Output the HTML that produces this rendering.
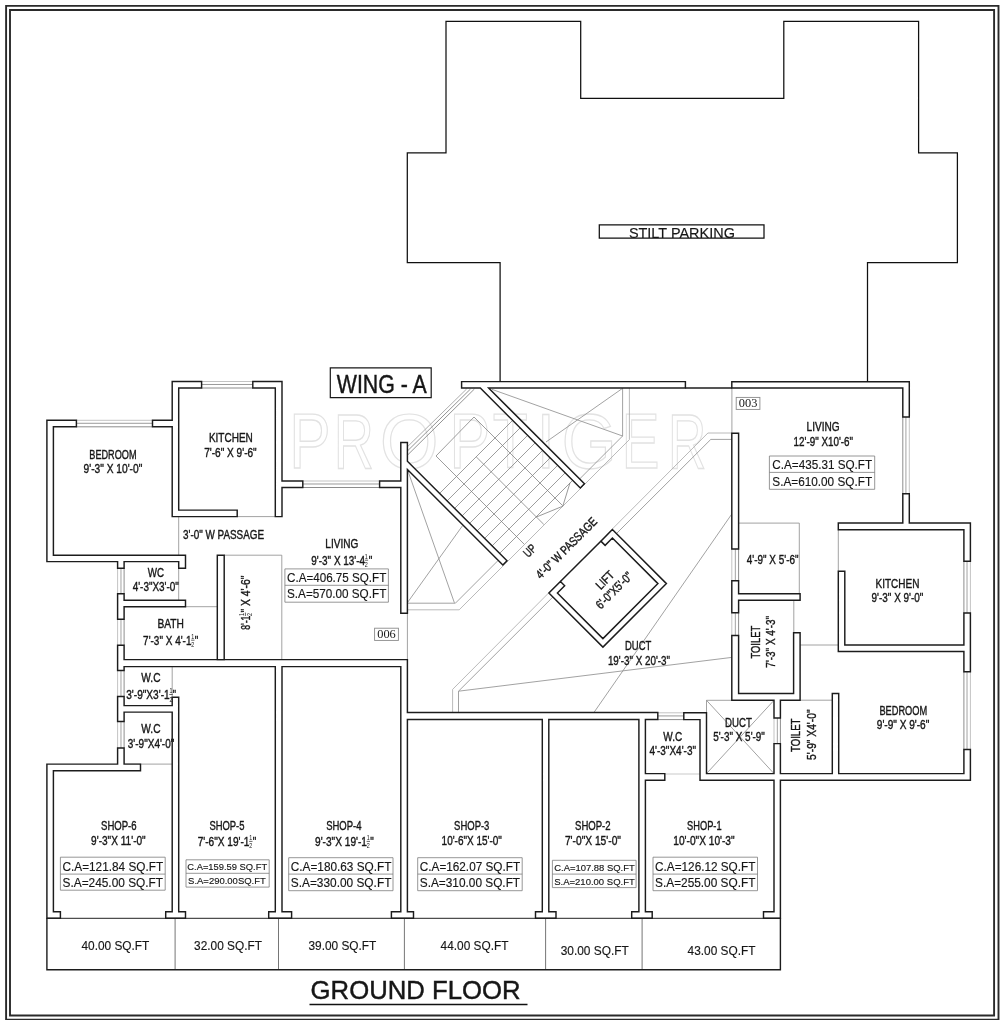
<!DOCTYPE html>
<html lang="en"><head><meta charset="utf-8"><title>Ground Floor Plan - Wing A</title>
<style>
html,body{margin:0;padding:0;background:#fff}
body{width:1000px;height:1020px;overflow:hidden}
svg{display:block;filter:grayscale(1)}
text{font-family:"Liberation Sans",Arial,sans-serif;fill:#161616}
text.c{stroke:#161616;stroke-width:.38px}
text.w{stroke:#161616;stroke-width:.45px}
text.n{stroke:#161616;stroke-width:.15px}
.ser{font-family:"Liberation Serif","Times New Roman",serif}
.wm text{fill:none;stroke:#e2e2e2;stroke-width:1.2;vector-effect:non-scaling-stroke}
</style></head><body>
<svg width="1000" height="1020" viewBox="0 0 1000 1020">
<rect width="1000" height="1020" fill="#fff"/>
<g class="wm"><text transform="translate(289.21 467.8) scale(0.7953 1)" font-size="78">P</text><text transform="translate(333.74 467.8) scale(0.7135 1)" font-size="78">R</text><text transform="translate(379.84 467.8) scale(0.9705 1)" font-size="78">O</text><text transform="translate(449.41 467.8) scale(0.7808 1)" font-size="78">P</text><text transform="translate(492.74 467.8) scale(0.7339 1)" font-size="78">T</text><text transform="translate(536.43 467.8) scale(0.8592 1)" font-size="78">I</text><text transform="translate(561.44 467.8) scale(0.9129 1)" font-size="78">G</text><text transform="translate(621.77 467.8) scale(0.7238 1)" font-size="78">E</text><text transform="translate(667.94 467.8) scale(0.6810 1)" font-size="78">R</text></g>
<path d="M175.1 918.3 L175.1 969.8" fill="none" stroke="#666" stroke-width="0.9"/>
<path d="M278.5 918.3 L278.5 969.8" fill="none" stroke="#666" stroke-width="0.9"/>
<path d="M404.4 918.3 L404.4 969.8" fill="none" stroke="#666" stroke-width="0.9"/>
<path d="M545.6 918.3 L545.6 969.8" fill="none" stroke="#666" stroke-width="0.9"/>
<path d="M642.1 918.3 L642.1 969.8" fill="none" stroke="#666" stroke-width="0.9"/>
<path d="M76.4 420.3 L152.5 420.3" fill="none" stroke="#b4b4b4" stroke-width="0.8"/>
<path d="M76.4 423.29 L152.5 423.29" fill="none" stroke="#808080" stroke-width="0.8"/>
<path d="M76.4 426.8 L152.5 426.8" fill="none" stroke="#707070" stroke-width="0.8"/>
<path d="M201.6 381.5 L252.8 381.5" fill="none" stroke="#b4b4b4" stroke-width="0.8"/>
<path d="M201.6 384.49 L252.8 384.49" fill="none" stroke="#808080" stroke-width="0.8"/>
<path d="M201.6 388 L252.8 388" fill="none" stroke="#707070" stroke-width="0.8"/>
<path d="M302.8 481 L379.6 481" fill="none" stroke="#b4b4b4" stroke-width="0.8"/>
<path d="M302.8 483.99 L379.6 483.99" fill="none" stroke="#808080" stroke-width="0.8"/>
<path d="M302.8 487.5 L379.6 487.5" fill="none" stroke="#707070" stroke-width="0.8"/>
<path d="M117.6 568.2 L117.6 593.8" fill="none" stroke="#b4b4b4" stroke-width="0.8"/>
<path d="M120.98 568.2 L120.98 593.8" fill="none" stroke="#8a8a8a" stroke-width="0.8"/>
<path d="M124.1 568.2 L124.1 593.8" fill="none" stroke="#707070" stroke-width="0.8"/>
<path d="M117.6 619.3 L117.6 645.3" fill="none" stroke="#b4b4b4" stroke-width="0.8"/>
<path d="M120.98 619.3 L120.98 645.3" fill="none" stroke="#8a8a8a" stroke-width="0.8"/>
<path d="M124.1 619.3 L124.1 645.3" fill="none" stroke="#707070" stroke-width="0.8"/>
<path d="M117.6 670.5 L117.6 696.5" fill="none" stroke="#b4b4b4" stroke-width="0.8"/>
<path d="M120.98 670.5 L120.98 696.5" fill="none" stroke="#8a8a8a" stroke-width="0.8"/>
<path d="M124.1 670.5 L124.1 696.5" fill="none" stroke="#707070" stroke-width="0.8"/>
<path d="M117.6 721.5 L117.6 748" fill="none" stroke="#b4b4b4" stroke-width="0.8"/>
<path d="M120.98 721.5 L120.98 748" fill="none" stroke="#8a8a8a" stroke-width="0.8"/>
<path d="M124.1 721.5 L124.1 748" fill="none" stroke="#707070" stroke-width="0.8"/>
<path d="M657.8 712.8 L683.8 712.8" fill="none" stroke="#b4b4b4" stroke-width="0.8"/>
<path d="M657.8 715.93 L683.8 715.93" fill="none" stroke="#808080" stroke-width="0.8"/>
<path d="M657.8 719.6 L683.8 719.6" fill="none" stroke="#707070" stroke-width="0.8"/>
<path d="M731.8 549 L731.8 580.8" fill="none" stroke="#b4b4b4" stroke-width="0.8"/>
<path d="M735.34 549 L735.34 580.8" fill="none" stroke="#8a8a8a" stroke-width="0.8"/>
<path d="M738.6 549 L738.6 580.8" fill="none" stroke="#707070" stroke-width="0.8"/>
<path d="M731.8 612.8 L731.8 635.4" fill="none" stroke="#b4b4b4" stroke-width="0.8"/>
<path d="M735.34 612.8 L735.34 635.4" fill="none" stroke="#8a8a8a" stroke-width="0.8"/>
<path d="M738.6 612.8 L738.6 635.4" fill="none" stroke="#707070" stroke-width="0.8"/>
<path d="M774 718 L774 743.6" fill="none" stroke="#b4b4b4" stroke-width="0.8"/>
<path d="M777.33 718 L777.33 743.6" fill="none" stroke="#8a8a8a" stroke-width="0.8"/>
<path d="M780.4 718 L780.4 743.6" fill="none" stroke="#707070" stroke-width="0.8"/>
<path d="M909.3 417 L909.3 493.7" fill="none" stroke="#b4b4b4" stroke-width="0.8"/>
<path d="M905.92 417 L905.92 493.7" fill="none" stroke="#8a8a8a" stroke-width="0.8"/>
<path d="M902.8 417 L902.8 493.7" fill="none" stroke="#707070" stroke-width="0.8"/>
<path d="M970.4 561.3 L970.4 613" fill="none" stroke="#b4b4b4" stroke-width="0.8"/>
<path d="M967.02 561.3 L967.02 613" fill="none" stroke="#8a8a8a" stroke-width="0.8"/>
<path d="M963.9 561.3 L963.9 613" fill="none" stroke="#707070" stroke-width="0.8"/>
<path d="M970.4 671.8 L970.4 749.5" fill="none" stroke="#b4b4b4" stroke-width="0.8"/>
<path d="M967.02 671.8 L967.02 749.5" fill="none" stroke="#8a8a8a" stroke-width="0.8"/>
<path d="M963.9 671.8 L963.9 749.5" fill="none" stroke="#707070" stroke-width="0.8"/>
<path d="M407.6 446.6 L466.6 389" fill="none" stroke="#999" stroke-width="0.8"/>
<path d="M407.6 450.8 L470.51 389" fill="none" stroke="#777" stroke-width="0.8"/>
<path d="M407.6 455 L474.41 389" fill="none" stroke="#777" stroke-width="0.8"/>
<path d="M237.2 516.6 L275.3 516.6" fill="none" stroke="#8a8a8a" stroke-width="0.8"/>
<path d="M178.7 516.6 L178.7 600.3" fill="none" stroke="#8a8a8a" stroke-width="0.8"/>
<path d="M185.5 606.7 L217.3 606.7" fill="none" stroke="#8a8a8a" stroke-width="0.8"/>
<path d="M224.2 555.2 L281.8 555.2 L281.8 659.6" fill="none" stroke="#8a8a8a" stroke-width="0.8"/>
<path d="M172.2 666.6 L172.2 697.3" fill="none" stroke="#8a8a8a" stroke-width="0.8"/>
<path d="M124.1 764.1 L172.2 764.1" fill="none" stroke="#8a8a8a" stroke-width="0.8"/>
<path d="M407.4 613.2 L407.4 659.6" fill="none" stroke="#8a8a8a" stroke-width="0.8"/>
<path d="M731.9 388 L731.9 433.2" fill="none" stroke="#8a8a8a" stroke-width="0.8"/>
<path d="M738.6 523.1 L799.3 523.1 L799.3 593.8" fill="none" stroke="#8a8a8a" stroke-width="0.8"/>
<path d="M838.3 529.7 L838.3 571.2" fill="none" stroke="#8a8a8a" stroke-width="0.8"/>
<path d="M793.8 600.3 L793.8 632.8" fill="none" stroke="#8a8a8a" stroke-width="0.8"/>
<path d="M800.1 645 L838.3 645" fill="none" stroke="#8a8a8a" stroke-width="0.8"/>
<path d="M800.1 700.2 L832.3 700.2" fill="none" stroke="#8a8a8a" stroke-width="0.8"/>
<path d="M706.5 700.3 L731.8 700.3" fill="none" stroke="#8a8a8a" stroke-width="0.8"/>
<path d="M706.5 700.3 L706.5 712.8" fill="none" stroke="#8a8a8a" stroke-width="0.8"/>
<path d="M664.8 774 L700 774" fill="none" stroke="#bbb" stroke-width="0.8"/>
<path d="M706.5 700.3 L774 773.6" fill="none" stroke="#8a8a8a" stroke-width="0.8"/>
<path d="M774 700.3 L706.5 773.6" fill="none" stroke="#8a8a8a" stroke-width="0.8"/>
<path d="M407.4 603.2 L455.4 603.2 L498.2 560.4" fill="none" stroke="#8a8a8a" stroke-width="0.8"/>
<path d="M579.6 479 L622.6 436 L622.6 388" fill="none" stroke="#8a8a8a" stroke-width="0.8"/>
<path d="M407.4 609.8 L459.2 609.8 L629.4 439.6 L629.4 388" fill="none" stroke="#a8a8a8" stroke-width="0.8"/>
<path d="M452.6 712.4 L452.6 689.4 L707.9 433 L731.8 433" fill="none" stroke="#a8a8a8" stroke-width="0.8"/>
<path d="M458.5 712.4 L458.5 691.2 L710.8 439.4 L731.8 439.4" fill="none" stroke="#8a8a8a" stroke-width="0.8"/>
<path d="M407.6 470 L454.4 602.8" fill="none" stroke="#8a8a8a" stroke-width="0.8"/>
<path d="M407.6 602.4 L462.6 525.6" fill="none" stroke="#8a8a8a" stroke-width="0.8"/>
<path d="M491.8 389.3 L622.6 436" fill="none" stroke="#8a8a8a" stroke-width="0.8"/>
<path d="M622.6 388.3 L546 442" fill="none" stroke="#8a8a8a" stroke-width="0.8"/>
<path d="M458.5 691.2 L731.8 657.4" fill="none" stroke="#8a8a8a" stroke-width="0.8"/>
<path d="M731.8 514 L594 712.4" fill="none" stroke="#8a8a8a" stroke-width="0.8"/>
<path d="M439.6 493.4 L512.65 420.35" fill="none" stroke="#7c7c7c" stroke-width="0.75"/>
<path d="M447.1 500.9 L520.15 427.85" fill="none" stroke="#7c7c7c" stroke-width="0.75"/>
<path d="M454.6 508.4 L527.65 435.35" fill="none" stroke="#7c7c7c" stroke-width="0.75"/>
<path d="M462.1 515.9 L535.15 442.85" fill="none" stroke="#7c7c7c" stroke-width="0.75"/>
<path d="M469.6 523.4 L542.65 450.35" fill="none" stroke="#7c7c7c" stroke-width="0.75"/>
<path d="M477.1 530.9 L550.15 457.85" fill="none" stroke="#7c7c7c" stroke-width="0.75"/>
<path d="M484.6 538.4 L557.65 465.35" fill="none" stroke="#7c7c7c" stroke-width="0.75"/>
<path d="M492.1 545.9 L565.15 472.85" fill="none" stroke="#7c7c7c" stroke-width="0.75"/>
<path d="M499.6 553.4 L572.65 480.35" fill="none" stroke="#7c7c7c" stroke-width="0.75"/>
<path d="M436 456 L524.1 544.1" fill="none" stroke="#7c7c7c" stroke-width="0.75"/>
<path d="M476.2 456.8 L543.8 524.4" fill="none" stroke="#7c7c7c" stroke-width="0.75"/>
<path d="M474 417 L562.6 505.6" fill="none" stroke="#7c7c7c" stroke-width="0.75"/>
<path d="M436 456 L474 417" fill="none" stroke="#7c7c7c" stroke-width="0.75"/>
<path d="M536.4 517 L562.8 506.2 L570 482.8" fill="none" stroke="#777" stroke-width="0.75"/>
<path d="M612.4 529.6 L666.42 583.62 L602.92 647.12 L548.9 593.1 Z" fill="#fff" stroke="none"/>
<path d="M152.5 426.8 L172.2 426.8 L172.2 510.1 L172.2 516.6 L178.7 516.6 L237.2 516.6 L237.2 510.1 L178.7 510.1 L178.7 426.8 L178.7 420.3 L178.7 388 L201.6 388 L201.6 381.5 L178.7 381.5 L172.2 381.5 L172.2 388 L172.2 420.3 L152.5 420.3 Z M46.9 420.3 L46.9 426.8 L46.9 555.2 L46.9 561.6 L53.4 561.6 L117.6 561.6 L117.6 568.2 L124.1 568.2 L124.1 561.6 L178.7 561.6 L178.7 568.2 L185.5 568.2 L185.5 561.6 L185.5 555.2 L178.7 555.2 L124.1 555.2 L117.6 555.2 L53.4 555.2 L53.4 426.8 L76.4 426.8 L76.4 420.3 L53.4 420.3 Z M117.6 600.3 L117.6 606.7 L117.6 619.3 L124.1 619.3 L124.1 606.7 L185.5 606.7 L185.5 600.3 L124.1 600.3 L124.1 593.8 L117.6 593.8 Z M124.1 670.5 L124.1 666.6 L275.3 666.6 L275.3 911.8 L268.7 911.8 L268.7 918.3 L275.3 918.3 L282 918.3 L291.6 918.3 L291.6 911.8 L282 911.8 L282 666.6 L400.8 666.6 L400.8 712.4 L400.8 719.5 L400.8 911.8 L391.4 911.8 L391.4 918.3 L400.8 918.3 L407.4 918.3 L413.5 918.3 L413.5 911.8 L407.4 911.8 L407.4 719.5 L542.3 719.5 L542.3 911.8 L535.5 911.8 L535.5 918.3 L542.3 918.3 L548.8 918.3 L556 918.3 L556 911.8 L548.8 911.8 L548.8 719.5 L638.9 719.5 L638.9 773.6 L638.9 780.3 L638.9 911.8 L631.7 911.8 L631.7 918.3 L638.9 918.3 L645.4 918.3 L652.2 918.3 L652.2 911.8 L645.4 911.8 L645.4 780.3 L664.8 780.3 L664.8 773.6 L645.4 773.6 L645.4 719.5 L657.8 719.5 L657.8 712.4 L645.4 712.4 L638.9 712.4 L548.8 712.4 L542.3 712.4 L407.4 712.4 L407.4 666.6 L407.4 659.6 L400.8 659.6 L282 659.6 L275.3 659.6 L124.1 659.6 L124.1 645.3 L117.6 645.3 L117.6 659.6 L117.6 666.6 L117.6 670.5 Z M117.6 705.6 L117.6 712.1 L117.6 721.5 L124.1 721.5 L124.1 712.1 L172.2 712.1 L172.2 911.8 L165.7 911.8 L165.7 918.3 L172.2 918.3 L178.7 918.3 L185.5 918.3 L185.5 911.8 L178.7 911.8 L178.7 712.1 L178.7 705.6 L178.7 697.3 L172.2 697.3 L172.2 705.6 L124.1 705.6 L124.1 696.5 L117.6 696.5 Z M46.9 770.8 L46.9 911.8 L46.9 918.3 L53.4 918.3 L60.4 918.3 L60.4 911.8 L53.4 911.8 L53.4 770.8 L117.6 770.8 L124.1 770.8 L140.5 770.8 L140.5 764.1 L124.1 764.1 L124.1 748 L117.6 748 L117.6 764.1 L53.4 764.1 L46.9 764.1 Z M252.8 381.5 L252.8 388 L275.3 388 L275.3 481 L275.3 487.5 L275.3 516.6 L282 516.6 L282 487.5 L302.8 487.5 L302.8 481 L282 481 L282 388 L282 381.5 L275.3 381.5 Z M461.6 388 L480.3 388 L580.3 488 L584.45 483.85 L488.6 388 L685.4 388 L685.4 381.6 L461.6 381.6 Z M407.4 487.5 L407.4 481 L407.4 469.5 L502.85 564.95 L507 560.8 L407.4 461.2 L407.4 442.5 L400.8 442.5 L400.8 481 L379.6 481 L379.6 487.5 L400.8 487.5 L400.8 613.2 L407.4 613.2 Z M557.39 593.1 L564.67 585.81 L560.43 581.57 L548.9 593.1 L602.92 647.12 L666.42 583.62 L612.4 529.6 L600.87 541.13 L605.12 545.37 L612.4 538.09 L657.94 583.62 L602.92 638.63 Z M700 719.6 L700 773.6 L700 780.3 L706.5 780.3 L774 780.3 L774 911.8 L763.5 911.8 L763.5 918.2 L774 918.2 L780.4 918.2 L780.4 911.8 L780.4 780.3 L832.3 780.3 L838.7 780.3 L963.9 780.3 L970.4 780.3 L970.4 773.6 L970.4 749.5 L963.9 749.5 L963.9 773.6 L838.7 773.6 L838.7 693.5 L832.3 693.5 L832.3 773.6 L780.4 773.6 L780.4 743.6 L774 743.6 L774 773.6 L706.5 773.6 L706.5 719.6 L706.5 712.8 L700 712.8 L683.8 712.8 L683.8 719.6 Z M902.8 417 L909.3 417 L909.3 388 L909.3 381.7 L902.8 381.7 L731.8 381.7 L731.8 388 L902.8 388 Z M731.8 549 L738.6 549 L738.6 433.2 L731.8 433.2 Z M902.8 523 L838.3 523 L838.3 529.7 L902.8 529.7 L909.3 529.7 L963.9 529.7 L963.9 561.3 L970.4 561.3 L970.4 529.7 L970.4 523 L963.9 523 L909.3 523 L909.3 493.7 L902.8 493.7 Z M738.6 612.8 L738.6 600.3 L800.1 600.3 L800.1 593.8 L738.6 593.8 L738.6 580.8 L731.8 580.8 L731.8 593.8 L731.8 600.3 L731.8 612.8 Z M963.9 671.8 L970.4 671.8 L970.4 651.5 L970.4 645 L970.4 613 L963.9 613 L963.9 645 L844.8 645 L844.8 571.2 L838.3 571.2 L838.3 645 L838.3 651.5 L844.8 651.5 L963.9 651.5 Z M793.6 632.8 L793.6 693.5 L738.6 693.5 L738.6 635.4 L731.8 635.4 L731.8 693.5 L731.8 700.2 L738.6 700.2 L774 700.2 L774 718 L780.4 718 L780.4 700.2 L793.6 700.2 L800.1 700.2 L800.1 693.5 L800.1 632.8 Z" fill="#fff" fill-rule="evenodd" stroke="#1c1c1c" stroke-width="1.45" stroke-linejoin="miter"/>
<path d="M224.2 555.2 L224.2 659.6 L217.3 659.6 L217.3 555.2 Z" fill="#fff" stroke="#1c1c1c" stroke-width="1.45" stroke-linejoin="miter"/>
<path d="M6.1 1021 L6.1 5.85 L998.5 5.85 L998.5 1021" fill="none" stroke="#2a2a2a" stroke-width="1.9"/>
<path d="M6.1 1019.7 L998.5 1019.7" fill="none" stroke="#2a2a2a" stroke-width="1.9"/>
<path d="M10 10 L994.1 10 L994.1 1015.5 L10 1015.5 Z" fill="none" stroke="#2a2a2a" stroke-width="1.9"/>
<path d="M500.1 381.6 L500.1 262.6 L407.3 262.6 L407.3 152.9 L446 152.9 L446 21.3 L580.7 21.3 L580.7 98.3 L783.8 98.3 L783.8 21.3 L918.6 21.3 L918.6 152.9 L957.4 152.9 L957.4 262.6 L867.5 262.6 L867.5 381.7" fill="none" stroke="#101010" stroke-width="1.25"/>
<path d="M599.3 224.8 L764 224.8 L764 238.2 L599.3 238.2 Z" fill="none" stroke="#101010" stroke-width="1.25"/>
<path d="M330.3 367.8 L431.2 367.8 L431.2 397.7 L330.3 397.7 Z" fill="none" stroke="#181818" stroke-width="1.2"/>
<path d="M685.4 388 L731.8 388" fill="none" stroke="#1c1c1c" stroke-width="1.5"/>
<path d="M46.9 918.3 L780.4 918.3" fill="none" stroke="#222" stroke-width="1"/>
<path d="M46.9 918.3 L46.9 969.8 L780.4 969.8 L780.4 918.3" fill="none" stroke="#1c1c1c" stroke-width="1.4"/>
<path d="M309.5 1004.6 L527.5 1004.6" fill="none" stroke="#111" stroke-width="1.5"/>
<path d="M600.87 541.13 L560.43 581.57" fill="none" stroke="#1c1c1c" stroke-width="1.4"/>
<text x="628.9" y="237.8" font-size="14.8" textLength="106" lengthAdjust="spacingAndGlyphs" class="n">STILT PARKING</text>
<text x="336.8" y="393.4" font-size="26.4" textLength="90" lengthAdjust="spacingAndGlyphs" class="w">WING - A</text>
<text x="310.6" y="999" font-size="26.2" textLength="210" lengthAdjust="spacingAndGlyphs" class="w">GROUND FLOOR</text>
<text x="89.3" y="458.8" font-size="12.3" textLength="47.3" lengthAdjust="spacingAndGlyphs" class="c">BEDROOM</text>
<text x="83.6" y="473.4" font-size="12.3" textLength="58.7" lengthAdjust="spacingAndGlyphs" class="c">9'-3&quot; X 10'-0&quot;</text>
<text x="208.9" y="442.2" font-size="12.3" textLength="43.9" lengthAdjust="spacingAndGlyphs" class="c">KITCHEN</text>
<text x="204.2" y="456.8" font-size="12.3" textLength="52.5" lengthAdjust="spacingAndGlyphs" class="c">7'-6&quot; X 9'-6&quot;</text>
<text x="183" y="539.3" font-size="12.3" textLength="81.1" lengthAdjust="spacingAndGlyphs" class="c">3'-0&quot; W PASSAGE</text>
<text x="147.8" y="577" font-size="12.3" textLength="16.3" lengthAdjust="spacingAndGlyphs" class="c">WC</text>
<text x="132.7" y="591.4" font-size="12.3" textLength="46.2" lengthAdjust="spacingAndGlyphs" class="c">4'-3&quot;X3'-0&quot;</text>
<text x="157.4" y="627.5" font-size="12.3" textLength="26.5" lengthAdjust="spacingAndGlyphs" class="c">BATH</text>
<text x="143.1" y="644.8" font-size="12.3" textLength="48.4" lengthAdjust="spacingAndGlyphs" class="c">7'-3&quot; X 4'-1</text>
<g class="c"><text x="191.2" y="638.5" font-size="7.4" textLength="3" lengthAdjust="spacingAndGlyphs">1</text><path d="M191.1 640.2 h3.4" stroke="#222" stroke-width="0.7" fill="none"/><text x="191.2" y="647.2" font-size="7.4" textLength="3" lengthAdjust="spacingAndGlyphs">2</text></g>
<text x="194.7" y="644.8" font-size="12.3" textLength="3.5" lengthAdjust="spacingAndGlyphs" class="c">&quot;</text>
<text x="141.3" y="681.7" font-size="12.3" textLength="19.2" lengthAdjust="spacingAndGlyphs" class="c">W.C</text>
<text x="126.2" y="699.1" font-size="12.3" textLength="43.5" lengthAdjust="spacingAndGlyphs" class="c">3'-9&quot;X3'-1</text>
<g class="c"><text x="169.4" y="692.8" font-size="7.4" textLength="3" lengthAdjust="spacingAndGlyphs">1</text><path d="M169.3 694.5 h3.4" stroke="#222" stroke-width="0.7" fill="none"/><text x="169.4" y="701.5" font-size="7.4" textLength="3" lengthAdjust="spacingAndGlyphs">2</text></g>
<text x="172.8" y="699.1" font-size="12.3" textLength="3.3" lengthAdjust="spacingAndGlyphs" class="c">&quot;</text>
<text x="141.3" y="733.2" font-size="12.3" textLength="19.2" lengthAdjust="spacingAndGlyphs" class="c">W.C</text>
<text x="127.8" y="747.5" font-size="12.3" textLength="46.5" lengthAdjust="spacingAndGlyphs" class="c">3'-9&quot;X4'-0&quot;</text>
<text x="325.3" y="547.8" font-size="12.3" textLength="33" lengthAdjust="spacingAndGlyphs" class="c">LIVING</text>
<text x="311.3" y="564.8" font-size="12.3" textLength="53.8" lengthAdjust="spacingAndGlyphs" class="c">9'-3&quot; X 13'-4</text>
<g class="c"><text x="364.8" y="558.5" font-size="7.4" textLength="3" lengthAdjust="spacingAndGlyphs">1</text><path d="M364.7 560.2 h3.4" stroke="#222" stroke-width="0.7" fill="none"/><text x="364.8" y="567.2" font-size="7.4" textLength="3" lengthAdjust="spacingAndGlyphs">2</text></g>
<text x="368.7" y="564.8" font-size="12.3" textLength="3.6" lengthAdjust="spacingAndGlyphs" class="c">&quot;</text>
<g transform="translate(250.0 629.3) rotate(-90)">
<text x="-0.5" y="0" font-size="12.3" textLength="14.2" lengthAdjust="spacingAndGlyphs" class="c">8'-1</text>
<g class="c"><text x="13.4" y="-6.3" font-size="7.4" textLength="3" lengthAdjust="spacingAndGlyphs">1</text><path d="M13.3 -4.6 h3.4" stroke="#222" stroke-width="0.7" fill="none"/><text x="13.4" y="2.4" font-size="7.4" textLength="3" lengthAdjust="spacingAndGlyphs">2</text></g>
<text x="16.8" y="0" font-size="12.3" textLength="37" lengthAdjust="spacingAndGlyphs" class="c">&quot; X 4'-6&quot;</text>
</g>
<path d="M284.9 568.9 H388.4 V602.2 H284.9 Z M284.9 585.3 H388.4" fill="none" stroke="#7c7c7c" stroke-width="0.8"/>
<text x="287" y="581.86" font-size="12" textLength="99.3" lengthAdjust="spacingAndGlyphs" class="n">C.A=406.75 SQ.FT</text>
<text x="287" y="598.48" font-size="12" textLength="99.3" lengthAdjust="spacingAndGlyphs" class="n">S.A=570.00 SQ.FT</text>
<path d="M769.4 456 H874.7 V489.3 H769.4 Z M769.4 472.4 H874.7" fill="none" stroke="#7c7c7c" stroke-width="0.8"/>
<text x="772.3" y="468.96" font-size="12" textLength="99.8" lengthAdjust="spacingAndGlyphs" class="n">C.A=435.31 SQ.FT</text>
<text x="772.3" y="485.58" font-size="12" textLength="99.8" lengthAdjust="spacingAndGlyphs" class="n">S.A=610.00 SQ.FT</text>
<path d="M60.4 857.2 H165.2 V890.2 H60.4 Z M60.4 874.1 H165.2" fill="none" stroke="#7c7c7c" stroke-width="0.8"/>
<text x="62.5" y="870.55" font-size="12" textLength="100.6" lengthAdjust="spacingAndGlyphs" class="n">C.A=121.84 SQ.FT</text>
<text x="62.5" y="886.66" font-size="12" textLength="100.6" lengthAdjust="spacingAndGlyphs" class="n">S.A=245.00 SQ.FT</text>
<path d="M186 859.8 H269.2 V887.1 H186 Z M186 873.3 H269.2" fill="none" stroke="#7c7c7c" stroke-width="0.8"/>
<text x="187.3" y="870.46" font-size="9.6" textLength="79.8" lengthAdjust="spacingAndGlyphs" class="n">C.A=159.59 SQ.FT</text>
<text x="188.1" y="884.06" font-size="9.6" textLength="77.7" lengthAdjust="spacingAndGlyphs" class="n">S.A=290.00SQ.FT</text>
<path d="M288.7 857.7 H393 V890.7 H288.7 Z M288.7 874.1 H393" fill="none" stroke="#7c7c7c" stroke-width="0.8"/>
<text x="290.8" y="870.66" font-size="12" textLength="100.6" lengthAdjust="spacingAndGlyphs" class="n">C.A=180.63 SQ.FT</text>
<text x="290.8" y="887.05" font-size="12" textLength="100.6" lengthAdjust="spacingAndGlyphs" class="n">S.A=330.00 SQ.FT</text>
<path d="M417.7 857.7 H522.2 V890.7 H417.7 Z M417.7 874.1 H522.2" fill="none" stroke="#7c7c7c" stroke-width="0.8"/>
<text x="419.8" y="870.66" font-size="12" textLength="100.3" lengthAdjust="spacingAndGlyphs" class="n">C.A=162.07 SQ.FT</text>
<text x="419.8" y="887.05" font-size="12" textLength="100.3" lengthAdjust="spacingAndGlyphs" class="n">S.A=310.00 SQ.FT</text>
<path d="M552.4 860.3 H636.1 V887.6 H552.4 Z M552.4 874.1 H636.1" fill="none" stroke="#7c7c7c" stroke-width="0.8"/>
<text x="554.2" y="871.2" font-size="9.6" textLength="80.6" lengthAdjust="spacingAndGlyphs" class="n">C.A=107.88 SQ.FT</text>
<text x="554.2" y="884.63" font-size="9.6" textLength="80.6" lengthAdjust="spacingAndGlyphs" class="n">S.A=210.00 SQ.FT</text>
<path d="M653 857.2 H757.5 V890.7 H653 Z M653 874.1 H757.5" fill="none" stroke="#7c7c7c" stroke-width="0.8"/>
<text x="655.1" y="870.55" font-size="12" textLength="100.3" lengthAdjust="spacingAndGlyphs" class="n">C.A=126.12 SQ.FT</text>
<text x="655.1" y="887.05" font-size="12" textLength="100.3" lengthAdjust="spacingAndGlyphs" class="n">S.A=255.00 SQ.FT</text>
<rect x="374.6" y="628.2" width="23.8" height="12.2" fill="none" stroke="#8a8a8a" stroke-width="0.9"/>
<text x="377.2" y="637.8" font-size="12" textLength="18.6" lengthAdjust="spacingAndGlyphs" class="ser">006</text>
<rect x="736.2" y="397.4" width="23.7" height="12" fill="none" stroke="#8a8a8a" stroke-width="0.9"/>
<text x="738.75" y="406.8" font-size="12" textLength="18.6" lengthAdjust="spacingAndGlyphs" class="ser">003</text>
<text x="101" y="829.9" font-size="12.3" textLength="35.6" lengthAdjust="spacingAndGlyphs" class="c">SHOP-6</text>
<text x="91.1" y="844.6" font-size="12.3" textLength="54.6" lengthAdjust="spacingAndGlyphs" class="c">9'-3&quot;X 11'-0&quot;</text>
<text x="209.4" y="829.9" font-size="12.3" textLength="35.1" lengthAdjust="spacingAndGlyphs" class="c">SHOP-5</text>
<text x="197.7" y="846" font-size="12.3" textLength="51.8" lengthAdjust="spacingAndGlyphs" class="c">7'-6&quot;X 19'-1</text>
<g class="c"><text x="249.2" y="839.7" font-size="7.4" textLength="3" lengthAdjust="spacingAndGlyphs">1</text><path d="M249.1 841.4 h3.4" stroke="#222" stroke-width="0.7" fill="none"/><text x="249.2" y="848.4" font-size="7.4" textLength="3" lengthAdjust="spacingAndGlyphs">2</text></g>
<text x="252.7" y="846" font-size="12.3" textLength="3.5" lengthAdjust="spacingAndGlyphs" class="c">&quot;</text>
<text x="326.2" y="829.9" font-size="12.3" textLength="35.3" lengthAdjust="spacingAndGlyphs" class="c">SHOP-4</text>
<text x="315" y="846" font-size="12.3" textLength="52" lengthAdjust="spacingAndGlyphs" class="c">9'-3&quot;X 19'-1</text>
<g class="c"><text x="366.7" y="839.7" font-size="7.4" textLength="3" lengthAdjust="spacingAndGlyphs">1</text><path d="M366.6 841.4 h3.4" stroke="#222" stroke-width="0.7" fill="none"/><text x="366.7" y="848.4" font-size="7.4" textLength="3" lengthAdjust="spacingAndGlyphs">2</text></g>
<text x="370.2" y="846" font-size="12.3" textLength="3.5" lengthAdjust="spacingAndGlyphs" class="c">&quot;</text>
<text x="454.1" y="829.9" font-size="12.3" textLength="35.3" lengthAdjust="spacingAndGlyphs" class="c">SHOP-3</text>
<text x="441.6" y="844.6" font-size="12.3" textLength="60.3" lengthAdjust="spacingAndGlyphs" class="c">10'-6&quot;X 15'-0&quot;</text>
<text x="575" y="829.9" font-size="12.3" textLength="35.6" lengthAdjust="spacingAndGlyphs" class="c">SHOP-2</text>
<text x="564.9" y="844.6" font-size="12.3" textLength="56.1" lengthAdjust="spacingAndGlyphs" class="c">7'-0&quot;X 15'-0&quot;</text>
<text x="687.1" y="829.9" font-size="12.3" textLength="34.5" lengthAdjust="spacingAndGlyphs" class="c">SHOP-1</text>
<text x="673.3" y="844.6" font-size="12.3" textLength="61.3" lengthAdjust="spacingAndGlyphs" class="c">10'-0&quot;X 10'-3&quot;</text>
<text x="81.5" y="949.5" font-size="12" textLength="67.8" lengthAdjust="spacingAndGlyphs" class="n">40.00 SQ.FT</text>
<text x="194.1" y="949.5" font-size="12" textLength="67.8" lengthAdjust="spacingAndGlyphs" class="n">32.00 SQ.FT</text>
<text x="308.5" y="949.5" font-size="12" textLength="67.8" lengthAdjust="spacingAndGlyphs" class="n">39.00 SQ.FT</text>
<text x="440.6" y="949.5" font-size="12" textLength="67.8" lengthAdjust="spacingAndGlyphs" class="n">44.00 SQ.FT</text>
<text x="560.7" y="954.7" font-size="12" textLength="68.1" lengthAdjust="spacingAndGlyphs" class="n">30.00 SQ.FT</text>
<text x="687.6" y="954.7" font-size="12" textLength="67.8" lengthAdjust="spacingAndGlyphs" class="n">43.00 SQ.FT</text>
<text x="806.6" y="431.3" font-size="12.3" textLength="33" lengthAdjust="spacingAndGlyphs" class="c">LIVING</text>
<text x="793.6" y="446.1" font-size="12.3" textLength="59.5" lengthAdjust="spacingAndGlyphs" class="c">12'-9&quot; X10'-6&quot;</text>
<text x="746.8" y="563.9" font-size="12.3" textLength="51.7" lengthAdjust="spacingAndGlyphs" class="c">4'-9&quot; X 5'-6&quot;</text>
<text x="875.5" y="588.1" font-size="12.3" textLength="43.9" lengthAdjust="spacingAndGlyphs" class="c">KITCHEN</text>
<text x="871.6" y="602.4" font-size="12.3" textLength="51.7" lengthAdjust="spacingAndGlyphs" class="c">9'-3&quot; X 9'-0&quot;</text>
<text x="879.4" y="714.7" font-size="12.3" textLength="47.8" lengthAdjust="spacingAndGlyphs" class="c">BEDROOM</text>
<text x="876.8" y="729" font-size="12.3" textLength="52.5" lengthAdjust="spacingAndGlyphs" class="c">9'-9&quot; X 9'-6&quot;</text>
<text x="725" y="727.1" font-size="12.3" textLength="26.8" lengthAdjust="spacingAndGlyphs" class="c">DUCT</text>
<text x="713.2" y="741.2" font-size="12.3" textLength="51.7" lengthAdjust="spacingAndGlyphs" class="c">5'-3&quot; X 5'-9&quot;</text>
<text x="625" y="649.8" font-size="12.3" textLength="26.3" lengthAdjust="spacingAndGlyphs" class="c">DUCT</text>
<text x="607.9" y="664.5" font-size="12.3" textLength="62.1" lengthAdjust="spacingAndGlyphs" class="c">19'-3&quot; X 20'-3&quot;</text>
<text x="663.3" y="740.9" font-size="12.3" textLength="18.9" lengthAdjust="spacingAndGlyphs" class="c">W.C</text>
<text x="649.5" y="755.2" font-size="12.3" textLength="46.5" lengthAdjust="spacingAndGlyphs" class="c">4'-3&quot;X4'-3&quot;</text>
<text class="c" transform="translate(755.8 642.2) rotate(-90)" x="-16.35" y="4.23" font-size="12.3" textLength="32.7" lengthAdjust="spacingAndGlyphs">TOILET</text>
<text class="c" transform="translate(771.1 641.8) rotate(-90)" x="-25.85" y="4.23" font-size="12.3" textLength="51.7" lengthAdjust="spacingAndGlyphs">7'-3&quot; X 4'-3&quot;</text>
<text class="c" transform="translate(796 735.3) rotate(-90)" x="-16.75" y="4.23" font-size="12.3" textLength="33.5" lengthAdjust="spacingAndGlyphs">TOILET</text>
<text class="c" transform="translate(811.4 734.7) rotate(-90)" x="-25.2" y="4.23" font-size="12.3" textLength="50.4" lengthAdjust="spacingAndGlyphs">5'-9&quot; X4'-0&quot;</text>
<text class="c" transform="translate(529.8 550.6) rotate(-45)" x="-6.25" y="4.23" font-size="12.3" textLength="12.5" lengthAdjust="spacingAndGlyphs">UP</text>
<text class="c" transform="translate(566.4 548) rotate(-45)" x="-40.4" y="4.23" font-size="12.3" textLength="80.8" lengthAdjust="spacingAndGlyphs">4'-0&quot; W PASSAGE</text>
<text class="c" transform="translate(604.9 580) rotate(-45)" x="-10.25" y="4.23" font-size="12.3" textLength="20.5" lengthAdjust="spacingAndGlyphs">LIFT</text>
<text class="c" transform="translate(614 590.4) rotate(-45)" x="-23" y="4.23" font-size="12.3" textLength="46" lengthAdjust="spacingAndGlyphs">6'-0&quot;X5'-0&quot;</text>
</svg>
</body></html>
